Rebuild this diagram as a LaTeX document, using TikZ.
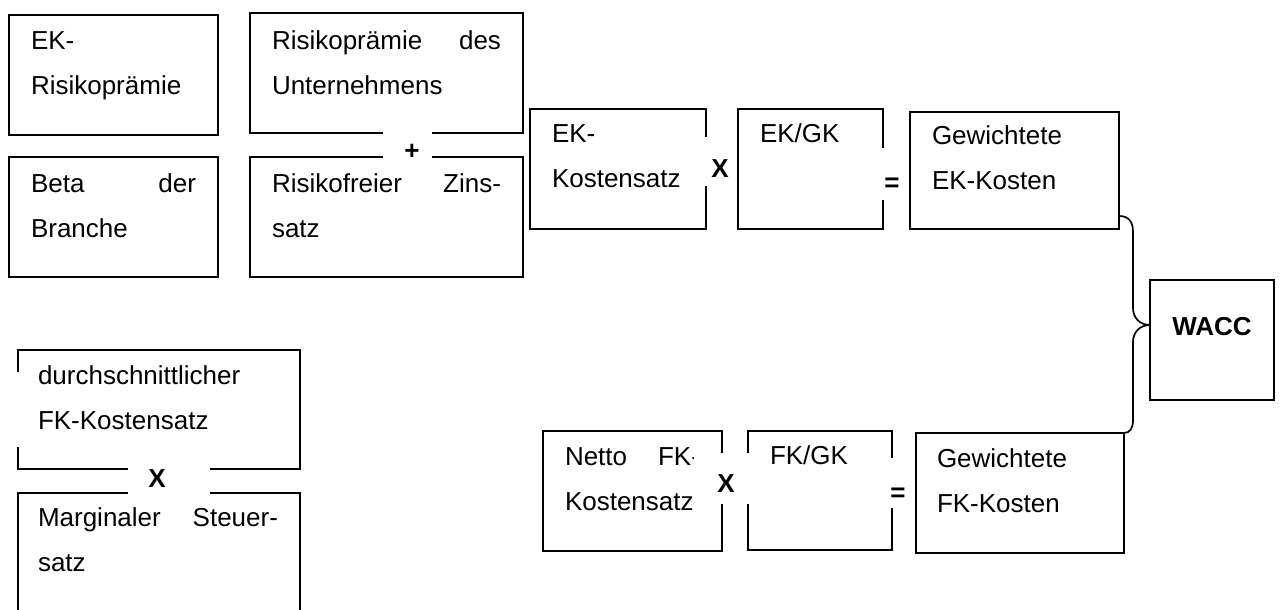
\documentclass[tikz,border=0pt]{standalone}
\usepackage{fontspec}
\setmainfont{Liberation Sans}
\usetikzlibrary{calc}
\tikzset{
  box/.style={draw=black, line width=1.7pt, anchor=north west, inner sep=0pt, outer sep=0pt},
  txt/.style={anchor=north west, inner sep=0pt, outer sep=0pt, align=left, font=\fontsize{26}{45}\selectfont},
  cover/.style={fill=white, draw=none, inner sep=0pt, outer sep=0pt},
  op/.style={anchor=base, inner sep=0pt, outer sep=0pt, font=\fontsize{26}{30}\selectfont\bfseries},
  bracepath/.style={draw=black, line width=1.7pt}
}
\begin{document}
\begin{tikzpicture}[x=1pt,y=-1pt]
\useasboundingbox (0,0) rectangle (1280,610);
\clip (0,0) rectangle (1280,610);
% boxes
\node[box, minimum width=209pt, minimum height=120pt] (bA) at (9,15) {};
\node[box, minimum width=209pt, minimum height=120pt] (bB) at (9,157) {};
\node[box, minimum width=273pt, minimum height=120pt] (bC) at (250,13) {};
\node[box, minimum width=273pt, minimum height=120pt] (bD) at (250,157) {};
\node[box, minimum width=176pt, minimum height=120pt] (bE) at (530,109) {};
\node[box, minimum width=145pt, minimum height=120pt] (bF) at (738,109) {};
\node[box, minimum width=209pt, minimum height=117pt] (bG) at (910,112) {};
\node[box, minimum width=124pt, minimum height=120pt] (bW) at (1150,280) {};
\node[box, minimum width=282pt, minimum height=119pt] (bH) at (18,350) {};
\node[box, minimum width=282pt, minimum height=130pt] (bI) at (18,493) {};
\node[box, minimum width=179pt, minimum height=120pt] (bJ) at (543,431) {};
\node[box, minimum width=144pt, minimum height=119pt] (bK) at (748,431) {};
\node[box, minimum width=208pt, minimum height=120pt] (bL) at (916,433) {};
% texts
\node[txt, text width=165pt] (tA) at (31,32) {EK-\\Risikoprämie};
\node[txt, text width=165pt] (tB) at (31,174) {Beta\hfill der\\Branche};
\node[txt, text width=229pt] (tC) at (272,31) {Risikoprämie\hfill des\\Unternehmens};
\node[txt, text width=229pt] (tD) at (272,174) {Risikofreier\hfill Zins-\\satz};
\node[txt, text width=132pt] (tE) at (552,125) {EK-\\Kostensatz};
\node[txt, text width=100pt] (tF) at (760,124) {EK/GK};
\node[txt, text width=165pt] (tG) at (932,126) {Gewichtete\\EK-Kosten};
\node[txt, text width=240pt] (tH) at (38,366) {durchschnittlicher\\FK-Kostensatz};
\node[txt, text width=240pt] (tI) at (38,508) {Marginaler\hfill Steuer-\\satz};
\node[txt, text width=135pt] (tJ) at (565,448) {Netto\hfill FK-\\Kostensatz};
\node[txt, text width=100pt] (tK) at (770,446) {FK/GK};
\node[txt, text width=165pt] (tL) at (937,449) {Gewichtete\\FK-Kosten};
\node[op] (tW) at (1212,335) {WACC};
% gaps in the borders
\node[cover, minimum width=49pt, minimum height=34pt] (cPlus) at (407.5,145) {};
\node[cover, minimum width=28pt, minimum height=49pt] (cX1) at (718,161.5) {};
\node[cover, minimum width=30pt, minimum height=52pt] (cEq1) at (891,174) {};
\node[cover, minimum width=58pt, minimum height=51pt] (cX2) at (723,478.5) {};
\node[cover, minimum width=26pt, minimum height=50pt] (cEq2) at (899,483) {};
\node[cover, minimum width=82pt, minimum height=38pt] (cX3) at (169,481) {};
\node[cover, minimum width=6pt, minimum height=75pt] (cH) at (18,409.5) {};
% operators
\node[op] (oPlus) at (412,159) {+};
\node[op] (oX1) at (720,177) {X};
\node[op] (oEq1) at (892,191) {=};
\node[op] (oX2) at (726,492) {X};
\node[op] (oEq2) at (898,501) {=};
\node[op] (oX3) at (157,487) {X};
% brace
\coordinate (bs) at ($(bG.south east)+(0,-13)$);
\coordinate (bt) at ($(bW.north west)+(0,45)$);
\coordinate (be) at (bL.north east);
\draw[bracepath] (bs) .. controls +(10,0) and +(0,-10) .. (1133,232) -- (1133,308)
  .. controls +(0,10) and +(-10,0) .. (bt)
  .. controls +(-10,0) and +(0,-10) .. (1133,342) -- (1133,420)
  .. controls +(0,8) and +(6,0) .. (be);
\end{tikzpicture}
\end{document}
